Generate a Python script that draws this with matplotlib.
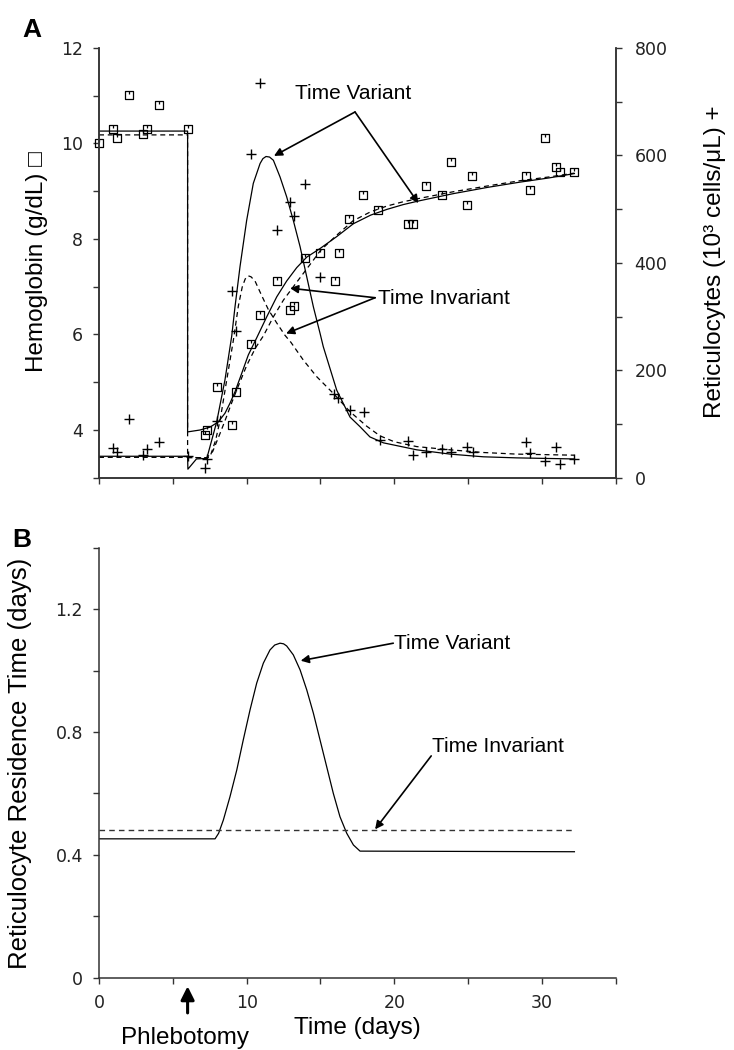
import matplotlib
matplotlib.use('Agg')
import matplotlib.pyplot as plt
from matplotlib.path import Path

plt.rcParams['font.family'] = ['Liberation Sans', 'DejaVu Sans']

# ---- Panel A: observed hemoglobin (g/dL) ----
hgb_days = [0, 0.95, 1.24, 2.05, 2.96, 3.25, 4.04, 6.0,
            7.16, 7.34, 8.0, 8.99, 9.26, 10.3, 10.93, 12.04, 12.96, 13.23,
            13.96, 14.99, 15.97, 16.26, 16.96, 17.9, 18.88, 20.9, 21.3,
            22.15, 23.2, 23.85, 24.9, 25.27, 28.9, 29.2, 30.2, 30.94, 31.23, 32.2]
hgb_vals = [10.0, 10.30, 10.11, 11.01, 10.20, 10.30, 10.81, 10.30,
            3.90, 4.0, 4.91, 4.11, 4.80, 5.81, 6.41, 7.11, 6.51, 6.60,
            7.61, 7.71, 7.11, 7.71, 8.41, 8.92, 8.61, 8.31, 8.31,
            9.11, 8.92, 9.61, 8.71, 9.31, 9.31, 9.02, 10.11, 9.51, 9.41, 9.41]

# ---- Panel A: observed reticulocytes (10^3 cells/uL) ----
ret_days = [0.98, 1.2, 2.06, 2.96, 3.25, 4.06, 6.0, 7.16, 7.34, 8.0,
            8.99, 9.26, 10.28, 10.9, 12.04, 12.94, 13.21, 13.96, 14.94,
            15.94, 16.2, 17.0, 17.95, 19.04, 20.95, 21.25, 22.15, 23.2,
            23.85, 24.9, 25.31, 28.9, 29.2, 30.2, 30.97, 31.23, 32.2]
ret_vals = [55, 48, 109, 42, 53, 66, 41, 19, 34, 106,
            348, 273, 602, 734, 462, 514, 487, 546, 374,
            156, 148, 126, 122, 71, 69, 42, 48, 53,
            48, 58, 48, 66, 47, 32, 58, 26, 34]

# ---- model fits, hemoglobin ----
hgb_tv_days = [0, 6.0, 6.0, 6.84, 7.52, 8.08, 8.53, 8.87, 9.21, 9.67, 10.11,
               10.68, 11.36, 12.04, 12.71, 13.39, 14.07, 14.97, 16.1, 17.23,
               18.4, 19.5, 20.6, 21.7, 24.0, 26.3, 28.5, 30.5, 32.2]
hgb_tv_vals = [10.26, 10.26, 3.96, 4.0, 4.06, 4.17, 4.35, 4.56, 4.80, 5.19, 5.57,
               5.93, 6.37, 6.79, 7.12, 7.40, 7.62, 7.80, 8.05, 8.32,
               8.50, 8.62, 8.72, 8.80, 8.95, 9.08, 9.19, 9.28, 9.37]
hgb_ti_days = [0, 6.0, 6.0, 7.3, 7.7, 8.2, 8.6, 9.0, 9.33, 10.0, 10.6, 11.13,
               11.81, 12.49, 13.16, 13.84, 14.5, 15.0, 16.1, 17.2, 18.4, 19.5,
               20.6, 21.7, 24.0, 26.3, 28.5, 30.5, 32.2]
hgb_ti_vals = [10.18, 10.18, 3.42, 3.42, 3.55, 3.93, 4.25, 4.58, 4.84, 5.35, 5.72, 5.97,
               6.37, 6.72, 7.0, 7.28, 7.55, 7.76, 8.08, 8.38, 8.57, 8.69,
               8.78, 8.85, 8.99, 9.11, 9.22, 9.30, 9.38]

# ---- model fits, reticulocytes ----
ret_tv_days = [0, 6.0, 6.02, 6.6, 7.3, 7.97, 8.53, 8.99, 9.21, 9.55, 10.0,
               10.45, 10.91, 11.1, 11.31, 11.55, 11.81, 12.26, 12.71, 13.16,
               13.62, 14.07, 14.52, 14.97, 15.19, 16.1, 17.0, 17.68, 18.35,
               19.26, 21.52, 23.78, 26.03, 28.29, 32.2]
ret_tv_vals = [40, 40, 16, 35, 36, 104, 182, 264, 318, 393, 479,
               548, 585, 594, 598, 597, 591, 560, 523, 479,
               430, 374, 318, 269, 244, 163, 113, 95, 76,
               65, 52, 44, 39, 37, 35]
ret_ti_days = [0, 6.0, 7.3, 7.52, 7.9, 8.2, 8.65, 9.1, 9.44, 9.7, 9.9, 10.1,
               10.3, 10.57, 11.02, 11.47, 12.04, 12.6, 13.0, 13.84, 14.75,
               15.87, 17.0, 18.13, 19.03, 20.0, 21.52, 23.78, 26.03, 28.29, 32.2]
ret_ti_vals = [38, 38, 37, 39, 70, 107, 182, 256, 320, 355, 370, 376,
               374, 366, 339, 313, 288, 265, 252, 219, 188,
               157, 123, 96, 78, 67, 58, 52, 47, 44, 42]

# ---- Panel B: reticulocyte residence time (days) ----
res_tv_days = [0, 7.86, 8.1, 8.42, 8.87, 9.33, 9.77, 10.23, 10.68, 11.13, 11.58,
               11.9, 12.26, 12.5, 12.71, 13.16, 13.62, 14.07, 14.52, 14.97,
               15.42, 15.87, 16.32, 16.78, 17.23, 17.68, 32.2]
res_tv_vals = [0.452, 0.452, 0.47, 0.513, 0.589, 0.676, 0.774, 0.872, 0.959, 1.024, 1.067,
               1.083, 1.089, 1.087, 1.080, 1.051, 1.002, 0.937, 0.861, 0.774,
               0.687, 0.600, 0.524, 0.470, 0.432, 0.412, 0.410]
res_ti_days = [0, 32.2]
res_ti_vals = [0.48, 0.48]

# square marker with a small tick inside (as in the original)
sq_marker = Path([(-1, -1), (1, -1), (1, 1), (-1, 1), (-1, -1), (0, 1), (0, 0.3)],
                 [Path.MOVETO, Path.LINETO, Path.LINETO, Path.LINETO, Path.CLOSEPOLY,
                  Path.MOVETO, Path.LINETO])

spine_c = '#333333'
tick_font = dict(family='DejaVu Sans', size=12.5, color='#222222')
dash = (0, (4, 3))
arrow = dict(arrowstyle='-|>', color='black', lw=1.2, mutation_scale=12,
             shrinkA=0, shrinkB=0)


def style_axis(ax):
    ax.spines['top'].set_visible(False)
    for s in ax.spines.values():
        s.set_color(spine_c)
        s.set_linewidth(1.1)
    ax.tick_params(which='both', direction='out', length=4.5, width=1.0,
                   color=spine_c, pad=7)
    for lab in ax.get_xticklabels() + ax.get_yticklabels():
        lab.set_fontfamily(tick_font['family'])
        lab.set_fontsize(tick_font['size'])
        lab.set_color(tick_font['color'])


fig = plt.figure(figsize=(7.34, 10.5), dpi=100)

# ================= Panel A =================
ax1 = fig.add_axes([0.1349, 0.545, 0.704, 0.4093])
ax1r = ax1.twinx()

ax1.plot(hgb_tv_days, hgb_tv_vals, color='black', lw=0.9)
ax1.plot(hgb_ti_days, hgb_ti_vals, color='black', lw=0.9, ls=dash)
ax1.plot(hgb_days, hgb_vals, ls='none', marker=sq_marker, ms=6.4,
         mfc='none', mec='black', mew=0.9, clip_on=False)

ax1r.plot(ret_tv_days, ret_tv_vals, color='black', lw=0.9)
ax1r.plot(ret_ti_days, ret_ti_vals, color='black', lw=0.9, ls=dash)
ax1r.plot(ret_days, ret_vals, ls='none', marker='+', ms=7, mec='black', mew=1.0)

ax1.set_xlim(0, 35)
ax1.set_ylim(3, 12)
ax1r.set_ylim(0, 800)
ax1.set_xticks(range(0, 36, 5))
ax1.set_xticklabels([])
ax1.set_yticks([4, 6, 8, 10, 12])
ax1.set_yticks([3, 5, 7, 9, 11], minor=True)
ax1r.set_yticks([0, 200, 400, 600, 800])
ax1r.set_yticks([100, 300, 500, 700], minor=True)
style_axis(ax1)
style_axis(ax1r)
ax1r.tick_params(which='both', pad=9)

ax1.annotate('', xy=(11.85, 9.74), xytext=(17.34, 10.66), arrowprops=arrow)
ax1.annotate('', xy=(21.63, 8.75), xytext=(17.34, 10.66), arrowprops=arrow)
ax1.text(13.28, 11.04, 'Time Variant', fontsize=15, ha='left', va='center')
ax1.annotate('', xy=(12.94, 6.97), xytext=(18.7, 6.77), arrowprops=arrow)
ax1.annotate('', xy=(12.67, 6.02), xytext=(18.7, 6.77), arrowprops=arrow)
ax1.text(18.9, 6.76, 'Time Invariant', fontsize=15, ha='left', va='center')

fig.text(37 / 734, 1 - 262 / 1050, 'Hemoglobin (g/dL) \u25a1', rotation=90,
         fontsize=17.5, ha='center', va='center')
fig.text(715 / 734, 1 - 262 / 1050, 'Reticulocytes (10\u00b3 cells/\u03bcL) +',
         rotation=90, fontsize=17.5, ha='center', va='center')
fig.text(22 / 734, 1 - 30 / 1050, 'A', fontsize=19, weight='bold', va='center')

# ================= Panel B =================
ax2 = fig.add_axes([0.1349, 0.0689, 0.704, 0.4095])
ax2.plot(res_tv_days, res_tv_vals, color='black', lw=0.9)
ax2.plot(res_ti_days, res_ti_vals, color='#333333', lw=1.0, ls=dash)
ax2.set_xlim(0, 35)
ax2.set_ylim(0, 1.4)
ax2.set_xticks([0, 10, 20, 30])
ax2.set_xticks([5, 15, 25, 35], minor=True)
ax2.set_yticks([0, 0.4, 0.8, 1.2])
ax2.set_yticklabels(['0', '0.4', '0.8', '1.2'])
ax2.set_yticks([0.2, 0.6, 1.0, 1.4], minor=True)
ax2.spines['right'].set_visible(False)
style_axis(ax2)

ax2.annotate('', xy=(13.66, 1.032), xytext=(19.93, 1.089), arrowprops=arrow)
ax2.text(19.95, 1.089, 'Time Variant', fontsize=15, ha='left', va='center')
ax2.annotate('', xy=(18.7, 0.483), xytext=(22.5, 0.722), arrowprops=arrow)
ax2.text(22.53, 0.752, 'Time Invariant', fontsize=15, ha='left', va='center')

xt = ax2.get_xaxis_transform()
ax2.annotate('', xy=(6, -0.02), xytext=(6, -0.082), xycoords=xt, textcoords=xt,
             arrowprops=dict(arrowstyle='-|>', color='black', lw=2.2,
                             mutation_scale=20, shrinkA=0, shrinkB=0),
             annotation_clip=False)
ax2.text(5.8, -0.14, 'Phlebotomy', transform=xt, ha='center', va='center',
         fontsize=17.5)
ax2.text(17.5, -0.117, 'Time (days)', transform=xt, ha='center', va='center',
         fontsize=17.5)

fig.text(20 / 734, 1 - 763 / 1050, 'Reticulocyte Residence Time (days)',
         rotation=90, fontsize=18.5, ha='center', va='center')
fig.text(12 / 734, 1 - 540 / 1050, 'B', fontsize=19, weight='bold', va='center')

fig.savefig('out.png', dpi=100)
